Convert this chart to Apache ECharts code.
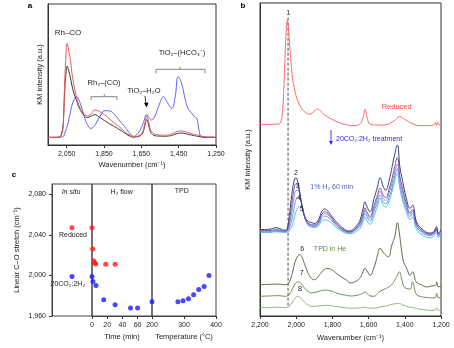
<!DOCTYPE html>
<html><head><meta charset="utf-8">
<script src="https://cdn.jsdelivr.net/npm/echarts@6/dist/echarts.min.js"></script>
<style>html,body{margin:0;padding:0;background:#fff}#c{width:454px;height:348px}</style>
</head><body><div id="c"></div>
<script>
// ---------- Panel a ----------
const wnA = [2150,2100,2086,2078,2071,2066,2061,2054,2048,2040,2032,2016,1998,1985,1971,1955,1939,1920,1900,1875,1846,1820,1793,1765,1739,1715,1693,1670,1648,1635,1621,1610,1603,1595,1577,1568,1550,1532,1510,1487,1470,1452,1435,1416,1400,1380,1365,1353,1341,1327,1300,1270,1250];
const aRed   = [5.4,5.4,5.7,7,10,20,43,63,72,68,62,46,34.3,28.5,24.8,22,20.6,22,24.8,23.8,21.3,18.5,15.4,12.5,9.5,7.2,5.9,6.3,8.3,13,20.6,16,11.8,9.5,7.6,7.3,7.1,7.0,7.1,7.8,8.8,9.8,9.9,9.5,8.8,8.0,7.5,7.2,6.8,6.3,5.7,5.5,5.4];
const aBlack = [5.4,5.5,5.9,8,12,22,37,50,56,53,49,39,32,27,23.5,20.8,19.5,20.5,21.5,19.8,17.2,15,13,10.8,8.5,6.5,5.6,5.9,7.5,11.5,18,13.5,10,8,6.6,6.4,6.3,6.2,6.3,6.8,7.6,8.3,8.5,8.1,7.6,7.0,6.6,6.3,6.0,5.8,5.5,5.4,5.4];
const aBlue  = [5.4,5.4,5.5,5.6,5.8,6.2,8,10.5,13,17,22,30.5,34.3,32,27,20,14.5,11.8,14,19.5,24.3,24.2,21.5,17,13,8.8,6.2,8,13,17.5,21.7,19.5,18.5,17.7,20.5,23.6,30,34.3,30,26,33,48.5,44,33,26,22.5,20,18.9,10.6,5.6,5.4,5.6,5.4];
const ticksA = [2050,1850,1650,1450,1250];

// ---------- Panel b ----------
const wnR = [2200,2100,2085,2075,2067,2058,2049,2040,2027,2008,1981,1944,1925,1900,1883,1860,1843,1787,1732,1680,1645,1630,1620,1608,1592,1550,1500,1460,1427,1400,1360,1316,1280,1240,1230,1225,1218,1210,1200];
const bReduced = [61.2,61.3,62,66,74.5,88,94.4,90,79.7,72.2,67.4,64.8,64.5,65.5,66.1,65.2,64.2,62.4,61.2,60.8,61.5,63.5,66.1,63.5,61.3,61.0,61.2,62.3,63.7,62.8,61.5,60.8,60.8,61.0,61.8,60.9,62,61,61.5];

const wnB = [2200,2150,2110,2090,2060,2050,2040,2025,2012,2002,1990,1975,1960,1940,1915,1896,1875,1860,1844,1825,1805,1786,1760,1735,1712,1690,1665,1647,1630,1620,1610,1592,1570,1550,1537,1520,1507,1482,1460,1441,1428,1417,1389,1371,1357,1335,1298,1262,1240,1225,1215,1200];
const b2 = [27.6,27.7,28.2,27.9,27.4,28.0,31.0,38.5,43.0,44.2,42.5,37.5,33.0,30.5,29.8,29.6,31.0,33.2,34.2,33.5,32.0,30.6,29.0,27.8,27.2,27.5,29.0,30.7,34.5,36.5,35.0,33.3,37.5,41.5,44.2,41.5,40.2,44.5,50.5,54.6,48.0,44.5,37.0,34.4,35.4,30.1,27.5,26.5,27.0,28.5,26.5,27.5];
const b3 = [27.3,27.3,27.6,27.4,27.1,27.5,29.5,35.5,40.5,42.2,41.5,37.5,33.0,30.0,29.2,29.1,30.3,32.3,33.3,32.8,31.4,30.0,28.5,27.4,26.9,27.1,28.4,29.8,32.8,34.6,33.3,31.8,35.3,38.8,40.9,38.8,37.8,41.5,46.5,50.6,45.0,41.8,35.5,33.0,34.0,29.3,27.0,26.2,26.6,28.0,26.2,27.2];
const b4 = [27.1,27.1,27.3,27.2,27.0,27.2,28.5,33.0,37.8,40.0,40.2,37.2,33.0,29.8,28.9,28.8,29.9,31.8,32.7,32.3,31.0,29.7,28.2,27.2,26.8,27.0,28.1,29.3,32.0,33.8,32.6,31.2,34.4,37.8,39.8,37.8,36.9,40.2,45.0,48.5,43.5,40.5,34.8,32.5,33.4,29.0,26.8,26.0,26.4,27.8,26.0,27.0];
const b4b = [26.9,26.9,27.1,27.0,26.9,27.0,27.8,30.5,34.5,37.0,38.0,37.0,33.5,29.8,28.7,28.6,29.5,31.2,31.9,31.6,30.5,29.3,27.9,27.0,26.6,26.8,27.8,28.8,31.2,32.8,31.8,30.4,33.4,36.6,38.6,36.6,35.8,38.8,43.5,47.0,42.3,39.3,33.9,31.8,32.7,28.5,26.4,25.7,26.1,27.3,25.7,26.8];
const b5 = [26.7,26.7,26.9,26.8,26.7,26.8,27.2,28.5,31.0,33.2,34.6,35.0,33.0,29.5,28.4,28.3,29.0,30.3,30.7,30.5,29.7,28.7,27.5,26.7,26.3,26.4,27.2,28.0,30.2,31.7,30.6,29.3,32.0,35.3,37.6,35.5,34.8,37.6,42.2,45.6,41.0,38.0,32.8,30.8,31.6,27.6,25.7,25.0,25.5,27.5,25.0,26.5];

const wnT = [2200,2150,2100,2060,2045,2036,2020,2005,1990,1981,1970,1955,1935,1916,1898,1880,1860,1840,1824,1800,1775,1751,1720,1703,1677,1650,1635,1620,1605,1592,1570,1550,1537,1515,1491,1472,1455,1441,1430,1417,1405,1389,1371,1357,1337,1310,1279,1250,1230,1224,1215,1200];
const b6 = [10.0,10.1,10.2,10.0,10.2,11.0,14.0,17.5,19.3,19.6,19.0,16.8,13.8,12.0,11.6,12.5,14.0,15.0,15.2,14.6,13.5,12.5,11.4,10.6,10.9,12.0,13.5,15.2,14.0,13.0,15.5,19.5,21.6,20.0,18.9,22.6,25.5,29.8,26.5,20.5,17.0,15.2,13.0,14.1,10.9,10.0,9.3,9.6,9.8,10.9,9.3,9.6];
const b7 = [6.3,6.4,6.5,6.3,6.5,7.0,8.8,10.3,10.9,10.8,10.2,9.0,7.9,7.4,7.5,7.8,8.1,8.3,8.2,7.9,7.3,6.9,6.6,6.4,6.5,6.8,7.2,7.6,7.0,6.4,6.3,7.2,7.9,8.5,9.2,10.0,11.5,13.0,14.1,11.8,9.4,8.8,8.6,10.9,7.0,6.2,5.9,5.8,6.0,7.2,5.8,6.0];
const b8 = [2.7,2.7,2.8,2.7,2.8,3.2,4.5,5.8,6.3,6.1,5.5,4.5,3.6,3.1,3.1,3.2,3.3,3.4,3.4,3.2,3.0,2.8,2.6,2.5,2.5,2.6,2.7,2.8,2.6,2.5,2.5,2.7,2.9,3.1,3.4,3.7,3.9,4.0,4.0,3.7,3.4,3.1,2.8,2.8,2.4,2.1,1.9,1.8,1.9,2.6,1.8,1.9];
const dashWn = [2045,2045];
const dashV = [95.3,2.9];
const ticksB = [2200,2000,1800,1600,1400,1200];

// ---------- Panel c ----------
const inSituX = [0.5];
const inSituRed = [2047];
const inSituBlue = [1999];
const h2TimeRed = [0,0.9,2.2,3.5,4.8,18,30.4];
const h2Red = [2047,2026,2014.4,2012.4,2011.1,2011,2011];
const h2TimeBlue = [0,1.3,5.3,15.4,30.4,50.7,60];
const h2Blue = [1999,1994,1990,1976,1971,1968,1968];
const tpdTemp = [200,281,297,314,330,346,363,378];
const tpdBlue = [1974,1974,1975,1977,1981,1986,1989,2000];
const ticksCy = [1960,2000,2040,2080];
const ticksTime = [0,20,40,60];
const ticksTemp = [200,300,400];

const zip = (xs, ys) => xs.map((x, i) => [x, ys[i]]);
const fmt = v => String(v).replace(/\B(?=(\d{3})+(?!\d))/g, ',');
const FF = 'Liberation Sans, Arial, sans-serif';
const axC = '#333';

const chart = echarts.init(document.getElementById('c'), null, {renderer: 'canvas'});

function specLine(x, y, xi, color, w) {
  return {type: 'line', xAxisIndex: xi, yAxisIndex: xi, data: zip(x, y), showSymbol: false, symbol: 'none',
    smooth: 0.45, lineStyle: {color: color, width: w || 1}, silent: true, animation: false};
}
function sc(x, y, xi, color) {
  return {type: 'scatter', xAxisIndex: xi, yAxisIndex: xi, data: zip(x, y), symbolSize: 5,
    itemStyle: {color: color}, clip: false, animation: false};
}
const lbl = {fontFamily: FF, fontSize: 7, color: '#222'};
const nameSt = {fontFamily: FF, fontSize: 7.5, color: '#222'};

function txt(t, x, y, color, opts) {
  opts = opts || {};
  return {type: 'text', x: x, y: y, z: 100, style: Object.assign({text: t, fill: color || '#222',
    fontFamily: FF, fontSize: 7.5, align: 'center', verticalAlign: 'middle'}, opts)};
}
function pl(points, color, w, dash) {
  return {type: 'polyline', z: 100, shape: {points: points}, style: {stroke: color, lineWidth: w || 0.8, fill: null, lineDash: dash || null}};
}
function tri(points, color) {
  return {type: 'polygon', z: 100, shape: {points: points}, style: {fill: color}};
}

const option = {
  backgroundColor: '#fff',
  animation: false,
  grid: [
    {left: 48, top: 4, width: 168, height: 141, show: true, borderColor: axC, borderWidth: 1},
    {left: 260, top: 3, width: 181, height: 313, show: true, borderColor: axC, borderWidth: 1},
    {left: 52, top: 184, width: 40, height: 132, show: true, borderColor: '#444', borderWidth: 1},
    {left: 92, top: 184, width: 60, height: 132, show: true, borderColor: '#444', borderWidth: 1},
    {left: 152, top: 184, width: 64, height: 132, show: true, borderColor: '#444', borderWidth: 1}
  ],
  xAxis: [
    {type: 'value', gridIndex: 0, min: 1250, max: 2150, inverse: true,
      axisLine: {lineStyle: {color: axC}}, axisTick: {length: 3, customValues: ticksA, lineStyle: {color: axC}},
      axisLabel: Object.assign({customValues: ticksA, margin: 6, formatter: fmt}, lbl), splitLine: {show: false},
      name: 'Wavenumber (cm⁻¹)', nameLocation: 'middle', nameGap: 16, nameTextStyle: nameSt},
    {type: 'value', gridIndex: 1, min: 1200, max: 2200, inverse: true,
      axisLine: {lineStyle: {color: axC}}, axisTick: {length: 3, customValues: ticksB, lineStyle: {color: axC}},
      axisLabel: Object.assign({customValues: ticksB, margin: 6, formatter: fmt, showMinLabel: true, showMaxLabel: true}, lbl), splitLine: {show: false},
      name: 'Wavenumber (cm⁻¹)', nameLocation: 'middle', nameGap: 17, nameTextStyle: nameSt},
    {type: 'value', gridIndex: 2, min: 0, max: 1, show: false},
    {type: 'value', gridIndex: 3, min: 0, max: 79,
      axisLine: {lineStyle: {color: '#444'}}, axisTick: {length: 3, customValues: ticksTime, lineStyle: {color: axC}},
      axisLabel: Object.assign({customValues: ticksTime, margin: 6}, lbl), splitLine: {show: false},
      name: 'Time (min)', nameLocation: 'middle', nameGap: 17, nameTextStyle: nameSt},
    {type: 'value', gridIndex: 4, min: 200, max: 400,
      axisLine: {lineStyle: {color: '#444'}}, axisTick: {length: 3, customValues: ticksTemp, lineStyle: {color: axC}},
      axisLabel: Object.assign({customValues: ticksTemp, margin: 6}, lbl), splitLine: {show: false},
      name: 'Temperature (°C)', nameLocation: 'middle', nameGap: 17, nameTextStyle: nameSt}
  ],
  yAxis: [
    {type: 'value', gridIndex: 0, min: 0, max: 100, axisLine: {show: true, lineStyle: {color: axC}}, axisTick: {show: false},
      axisLabel: {show: false}, splitLine: {show: false},
      name: 'KM intensity (a.u.)', nameLocation: 'middle', nameGap: 4, nameTextStyle: nameSt},
    {type: 'value', gridIndex: 1, min: 0, max: 100, axisLine: {show: true, lineStyle: {color: axC}}, axisTick: {show: false},
      axisLabel: {show: false}, splitLine: {show: false},
      name: 'KM intensity (a.u.)', nameLocation: 'middle', nameGap: 8, nameTextStyle: nameSt},
    {type: 'value', gridIndex: 2, min: 1960, max: 2090,
      axisLine: {show: true, lineStyle: {color: '#444'}}, axisTick: {length: 3, customValues: ticksCy, lineStyle: {color: axC}},
      axisLabel: Object.assign({customValues: ticksCy, margin: 6, formatter: fmt}, lbl), splitLine: {show: false},
      name: 'Linear C–O stretch (cm⁻¹)', nameLocation: 'middle', nameGap: 31, nameTextStyle: nameSt},
    {type: 'value', gridIndex: 3, min: 1960, max: 2090, show: false},
    {type: 'value', gridIndex: 4, min: 1960, max: 2090, show: false}
  ],
  series: [
    specLine(wnA, aBlue, 0, '#6262f2'),
    specLine(wnA, aBlack, 0, '#3a3a3a'),
    specLine(wnA, aRed, 0, '#f25a5a'),

    {type: 'line', xAxisIndex: 1, yAxisIndex: 1, data: zip(dashWn, dashV), symbol: 'none',
      lineStyle: {color: '#333', width: 0.9, type: [3, 2]}, animation: false},
    specLine(wnR, bReduced, 1, '#ff6b6b'),
    specLine(wnB, b5, 1, '#3fc6f2'),
    specLine(wnB, b4b, 1, '#6f93e6'),
    specLine(wnB, b4, 1, '#a48ad8'),
    specLine(wnB, b3, 1, '#7b55a8'),
    specLine(wnB, b2, 1, '#34407f'),
    specLine(wnT, b6, 1, '#5d6b4c'),
    specLine(wnT, b7, 1, '#6f8c58'),
    specLine(wnT, b8, 1, '#92b47d'),

    sc(inSituX, inSituRed, 2, '#ff1a1a'),
    sc(inSituX, inSituBlue, 2, '#1a1aff'),
    sc(h2TimeRed, h2Red, 3, '#ff1a1a'),
    sc(h2TimeBlue, h2Blue, 3, '#1a1aff'),
    sc(tpdTemp, tpdBlue, 4, '#1a1aff')
  ],
  graphic: [
    txt('a', 30, 6, '#000', {fontWeight: 'bold', fontSize: 8}),
    txt('b', 243, 6, '#000', {fontWeight: 'bold', fontSize: 8}),
    txt('c', 14, 175, '#000', {fontWeight: 'bold', fontSize: 8}),
    // panel a annotations
    txt('Rh–CO', 68, 33, '#222', {fontSize: 8}),
    txt('Rh₂–(CO)', 104, 83),
    pl([[91, 100], [91, 96.7], [117, 96.7], [117, 100]], '#666'),
    pl([[104.3, 96.7], [104.3, 94.3]], '#666'),
    txt('TiO₂–H₂O', 144, 91),
    pl([[145, 96], [146, 104]], '#000', 0.8),
    tri([[144, 103], [148.5, 102.5], [146.6, 107.5]], '#000'),
    txt('TiO₂–(HCO₃⁻)', 182, 53),
    pl([[156, 73.3], [156, 69.3], [205, 69.3], [205, 73.3]], '#666'),
    pl([[180, 69.3], [180, 66.7]], '#666'),
    // panel b annotations
    txt('1', 288.3, 13.3, '#222', {fontSize: 7}),
    txt('Reduced', 396.7, 107.3, '#ff4444'),
    pl([[331, 130], [331, 142]], '#2a2af5', 0.9),
    tri([[329, 141], [333, 141], [331, 145]], '#2a2af5'),
    txt('20CO₂:2H₂ treatment', 336, 138.7, '#2a2af5', {align: 'left', fontSize: 7}),
    txt('2', 296, 172.7, '#222', {fontSize: 7}),
    txt('3', 297.7, 186, '#222', {fontSize: 7}),
    txt('4', 299, 198.3, '#222', {fontSize: 7}),
    txt('5', 301.7, 209.3, '#222', {fontSize: 7}),
    txt('1% H₂ 60 min', 331.7, 187.3, '#4a68ad', {fontSize: 7}),
    txt('6', 302.3, 249.3, '#222', {fontSize: 7}),
    txt('7', 301.7, 272.7, '#222', {fontSize: 7}),
    txt('8', 300, 289, '#222', {fontSize: 7}),
    txt('TPD in He', 330, 249.3, '#5b8c3c', {fontSize: 7}),
    // panel c annotations
    txt('In situ', 71, 191.7, '#222', {fontStyle: 'italic', fontSize: 7}),
    txt('H₂ flow', 121.7, 191.7, '#222', {fontSize: 7}),
    txt('TPD', 181.7, 191.5, '#222', {fontSize: 7}),
    txt('Reduced', 73, 235, '#222', {fontSize: 7}),
    txt('20CO₂:2H₂', 67.8, 284, '#222', {fontSize: 7})
  ]
};
chart.setOption(option);
</script></body></html>
